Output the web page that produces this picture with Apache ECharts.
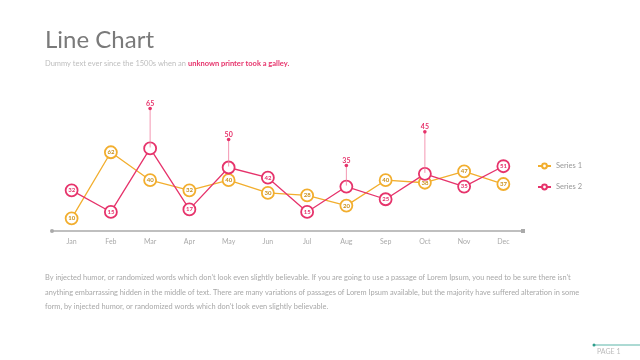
<!DOCTYPE html>
<html>
<head>
<meta charset="utf-8">
<script src="https://cdn.jsdelivr.net/npm/echarts@6/dist/echarts.min.js"></script>
<style>html,body{margin:0;padding:0;background:#fff;}#c{width:640px;height:360px;}</style>
</head>
<body>
<div id="c"></div>
<script>
var categories = ['Jan','Feb','Mar','Apr','May','Jun','Jul','Aug','Sep','Oct','Nov','Dec'];
var series1 = [10, 62, 40, 32, 40, 30, 28, 20, 40, 38, 47, 37];
var series2 = [32, 15, 65, 17, 50, 42, 15, 35, 25, 45, 35, 51];
var calloutIdx = [2, 4, 7, 9];
var seriesNames = ['Series 1', 'Series 2'];

var C1 = '#F2AE2E', C1T = '#C9901C', C2 = '#E6336B';
var FONT = 'Lato, "Open Sans", sans-serif';
// style: pixel lift of each callout
var lift = {2: 40, 4: 28, 7: 21, 9: 42};

var s2data = series2.map(function (v, i) {
  if (calloutIdx.indexOf(i) >= 0) return {value: v, label: {show: false}};
  return v;
});
var calloutData = calloutIdx.map(function (i) { return [i, series2[i]]; });

var chart = echarts.init(document.getElementById('c'), null, {renderer: 'canvas'});
chart.setOption({
  animation: false,
  backgroundColor: '#fff',
  title: {
    text: 'Line Chart',
    left: 40, top: 23,
    textStyle: {fontFamily: FONT, fontSize: 24, fontWeight: 'normal', color: '#7a7a7a'},
    subtext: '{a|Dummy text ever since the 1500s when an }{b|unknown printer took a galley.}',
    itemGap: 8,
    subtextStyle: {
      rich: {
        a: {fontFamily: FONT, fontSize: 7.5, color: '#bdbdbd'},
        b: {fontFamily: FONT, fontSize: 7.5, color: C2, fontWeight: 'bold'}
      }
    }
  },
  legend: {
    orient: 'vertical',
    left: 532, top: 157,
    itemWidth: 13, itemHeight: 6, itemGap: 13,
    textStyle: {fontFamily: FONT, fontSize: 7.5, color: '#999'},
    data: seriesNames
  },
  grid: {left: 52, right: 117, top: 104, bottom: 129},
  xAxis: {
    type: 'category',
    data: categories,
    boundaryGap: true,
    axisLine: {show: true, lineStyle: {color: '#aaa', width: 1.5}, symbol: ['circle', 'rect'], symbolSize: [4, 4]},
    axisTick: {show: false},
    axisLabel: {fontFamily: FONT, fontSize: 7, color: '#aaa', margin: 7}
  },
  yAxis: {
    type: 'value', min: 0, max: 100, show: false,
    splitLine: {show: false}
  },
  series: [
    {
      name: seriesNames[0], type: 'line', data: series1,
      symbol: 'circle', symbolSize: 12,
      itemStyle: {color: '#fff', borderColor: C1, borderWidth: 1.8},
      lineStyle: {color: C1, width: 1.3},
      label: {show: true, position: 'inside', fontFamily: FONT, fontSize: 6, fontWeight: 'bold', color: C1T},
      z: 2
    },
    {
      name: seriesNames[1], type: 'line', data: s2data,
      symbol: 'circle', symbolSize: 12,
      itemStyle: {color: '#fff', borderColor: C2, borderWidth: 1.8},
      lineStyle: {color: C2, width: 1.3},
      label: {show: true, position: 'inside', fontFamily: FONT, fontSize: 6, fontWeight: 'bold', color: C2},
      z: 3
    },
    {
      type: 'custom', data: calloutData, z: 10, silent: true,
      renderItem: function (params, api) {
        var i = api.value(0), v = api.value(1);
        var p = api.coord([i, v]);
        var h = lift[i] || 30;
        var top = p[1] - h;
        return {
          type: 'group',
          children: [
            {type: 'line', shape: {x1: p[0], y1: top, x2: p[0], y2: p[1] - 1}, style: {stroke: '#F07C9E', lineWidth: 0.8}},
            {type: 'circle', shape: {cx: p[0], cy: top, r: 1.8}, style: {fill: C2}},
            {type: 'text', style: {x: p[0], y: top - 5, text: String(v), align: 'center', verticalAlign: 'middle',
              fontFamily: FONT, fontSize: 7, fontWeight: 'bold', fill: C2}}
          ]
        };
      }
    }
  ],
  graphic: [
    {
      type: 'text', left: 45, top: 271,
      style: {
        text: "By injected humor, or randomized words which don't look even slightly believable. If you are going to use a passage of Lorem Ipsum, you need to be sure there isn't\nanything embarrassing hidden in the middle of text. There are many variations of passages of Lorem Ipsum available, but the majority have suffered alteration in some\nform, by injected humor, or randomized words which don't look even slightly believable.",
        fontFamily: FONT, fontSize: 7.4, lineHeight: 14.2, fill: '#a8a8a8'
      }
    },
    {type: 'line', shape: {x1: 594, y1: 345, x2: 640, y2: 345}, style: {stroke: '#5bb5a8', lineWidth: 1}},
    {type: 'circle', shape: {cx: 594, cy: 345, r: 1.5}, style: {fill: '#2e9e8c'}},
    {type: 'text', left: 597, top: 348, style: {text: 'PAGE 1', fontFamily: FONT, fontSize: 7, fill: '#bbb'}}
  ]
});
</script>
</body>
</html>
